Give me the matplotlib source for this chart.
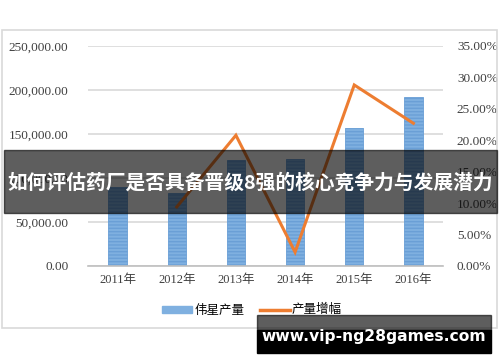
import matplotlib
matplotlib.use('Agg')
import matplotlib.pyplot as plt
import numpy as np
from matplotlib.patches import Rectangle
from matplotlib.lines import Line2D

plt.rcParams['font.family'] = ['Liberation Serif', 'Noto Sans CJK SC', 'DejaVu Sans']
plt.rcParams['hatch.color'] = '#b5d2f0'

# Data
years = ['2011年', '2012年', '2013年', '2014年', '2015年', '2016年']
output = [89500, 83000, 120500, 121600, 156800, 192000]
growth = [np.nan, 9.4, 20.8, 2.2, 28.8, 22.7]
left_ticks = [0, 50000, 100000, 150000, 200000, 250000]
right_ticks = [0, 5, 10, 15, 20, 25, 30, 35]

BLUE = '#7fb0e0'
ORANGE = '#ed7d31'
GRID = '#d9d9d9'

fig = plt.figure(figsize=(5, 3.62), dpi=100)
fig.patch.set_facecolor('white')

# chart frame
fig.patches.append(Rectangle((2 / 500, 1 - 328 / 362), 495 / 500, 298 / 362,
                             transform=fig.transFigure, fill=False,
                             edgecolor=GRID, linewidth=1.2, zorder=0))

ax = fig.add_axes([88 / 500, 1 - 266 / 362, 355 / 500, 220 / 362])
ax2 = ax.twinx()

x = np.arange(len(years))
ax.bar(x, output, width=0.31, color=BLUE, edgecolor='#6a9fd6', linewidth=0.6,
       hatch='-----', zorder=2)

ax.set_xlim(-0.5, 5.5)
ax.set_ylim(0, 250000)
ax.set_yticks(left_ticks)
ax.set_yticklabels([f'{v:,.2f}' for v in left_ticks], fontsize=9.5, color='#404040')
ax.set_xticks(x)
ax.set_xticklabels(years, fontsize=9, color='#404040')
ax.grid(True, axis='y', color=GRID, linewidth=1.2, zorder=0)
ax.set_axisbelow(True)
for s in ['top', 'right', 'left']:
    ax.spines[s].set_visible(False)
ax.spines['bottom'].set_color('#bfbfbf')
ax.spines['bottom'].set_linewidth(1.2)
ax.tick_params(length=0, pad=14)
ax.tick_params(axis='x', pad=6)

ax2.plot(x, growth, color=ORANGE, linewidth=2.2, solid_joinstyle='miter', zorder=3)
ax2.set_ylim(0, 35)
ax2.set_yticks(right_ticks)
ax2.set_yticklabels([f'{v:.2f}%' for v in right_ticks], fontsize=9.5, color='#404040')
ax2.tick_params(length=0, pad=10)
for s in ax2.spines.values():
    s.set_visible(False)

handles = [Rectangle((0, 0), 1, 1, color=BLUE),
           Line2D([0], [0], color=ORANGE, linewidth=2.5)]
fig.legend(handles, ['伟星产量', '产量增幅'], loc='center',
           bbox_to_anchor=(252 / 500, 1 - 310 / 362), ncol=2, frameon=False,
           prop={'family': 'Noto Sans CJK SC', 'size': 9},
           handlelength=2.4, handleheight=0.5, columnspacing=1.2, handletextpad=0.2)

# dark title band overlay
fig.patches.append(Rectangle((4 / 500, 1 - 213 / 362), 493 / 500, 63 / 362,
                             transform=fig.transFigure, color='black',
                             alpha=0.63, zorder=10))
fig.text(250 / 500, 1 - 183 / 362, '如何评估药厂是否具备晋级8强的核心竞争力与发展潜力',
         ha='center', va='center', color='white', fontsize=14.2, fontweight='bold',
         family=['Noto Sans CJK SC'], zorder=11)

# bottom url box
fig.patches.append(Rectangle((257 / 500, 1 - 330 / 362), 234 / 500, 15 / 362,
                             transform=fig.transFigure, color='black',
                             alpha=0.63, zorder=10))
fig.patches.append(Rectangle((257 / 500, 1 - 353 / 362), 234 / 500, 23 / 362,
                             transform=fig.transFigure, color='black', zorder=10))
fig.text(374 / 500, 1 - 337 / 362, 'www.vip-ng28games.com', ha='center', va='center',
         color='white', fontsize=11.2, fontweight='bold', family=['DejaVu Sans'],
         zorder=11)

fig.savefig('out.png', dpi=100, facecolor='white')
